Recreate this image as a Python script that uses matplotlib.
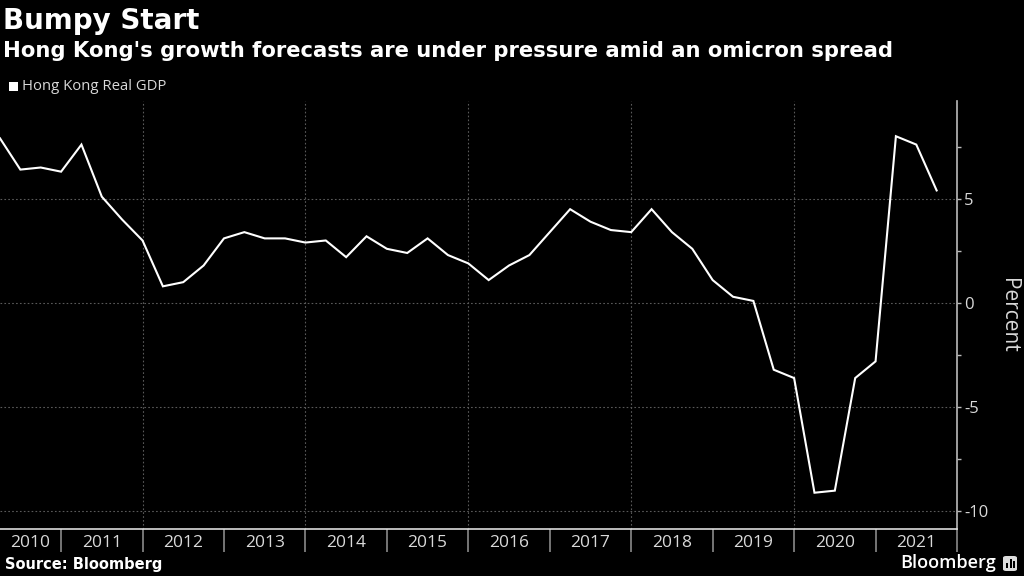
import matplotlib
matplotlib.use("Agg")
import matplotlib.pyplot as plt
from matplotlib.patches import Rectangle, FancyBboxPatch

# ---- data (quarterly, 2010 Q1 .. 2021 Q3), YoY % ----
quarters = list(range(47))
gdp = [7.9, 6.4, 6.5, 6.3, 7.6, 5.1, 4.0, 3.0,
       0.8, 1.0, 1.8, 3.1, 3.4, 3.1, 3.1, 2.9,
       3.0, 2.2, 3.2, 2.6, 2.4, 3.1, 2.3, 1.9,
       1.1, 1.8, 2.3, 3.4, 4.5, 3.9, 3.5, 3.4,
       4.5, 3.4, 2.6, 1.1, 0.3, 0.1, -3.2, -3.6,
       -9.1, -9.0, -3.6, -2.8, 8.0, 7.6, 5.4]
years = ["2010", "2011", "2012", "2013", "2014", "2015", "2016",
         "2017", "2018", "2019", "2020", "2021"]
y_ticks = [5, 0, -5, -10]
y_minor = [7.5, 2.5, -2.5, -7.5]

BG = "black"
TXT = "#d9d9d9"
GRID = "#5a5a5a"
FONT = ["Open Sans", "DejaVu Sans"]

W, H = 1024, 576
fig = plt.figure(figsize=(W / 100, H / 100), dpi=100, facecolor=BG)
left, right, top, bottom = 0, 957, 101, 529
ax = fig.add_axes([left / W, 1 - bottom / H, (right - left) / W, (bottom - top) / H])
ax.set_facecolor(BG)

ax.plot(quarters, gdp, color="white", lw=1.5, solid_joinstyle="miter", zorder=3)

ax.set_xlim(0, 47)
ax.set_ylim(-10.84, 9.69)

# year boundaries (minor ticks) and labels (major ticks at centres)
bounds = [3 + 4 * k for k in range(12)]
starts = [0] + bounds[:-1]
centres = [(s + e) / 2 for s, e in zip(starts, bounds)]
ax.set_xticks(centres)
ax.set_xticklabels(years, fontsize=12.5, color=TXT, family=FONT)
ax.set_xticks(bounds, minor=True)
ax.tick_params(axis="x", which="major", length=0, pad=4)
ax.tick_params(axis="x", which="minor", length=16.5, width=1.2, color="#8a8a8a", direction="out")

# y axis on right
ax.yaxis.tick_right()
ax.set_yticks(y_ticks)
ax.set_yticklabels([f"{v:g}" for v in y_ticks], fontsize=12, color=TXT, family=FONT)
ax.set_yticks(y_minor, minor=True)
ax.tick_params(axis="y", which="major", length=3, width=1, color="#bbbbbb", pad=2)
ax.tick_params(axis="y", which="minor", length=3, width=1, color="#bbbbbb")
ax.yaxis.set_label_position("right")
ax.set_ylabel("Percent", rotation=270, color=TXT, fontsize=15, family=FONT, labelpad=22)

# grid
for v in y_ticks:
    ax.axhline(v, color=GRID, lw=0.8, ls=(0, (1.5, 2)), zorder=1)
for b in [7, 15, 23, 31, 39]:
    ax.axvline(b, color=GRID, lw=0.8, ls=(0, (1.5, 2)), zorder=1)

for s in ["top", "left"]:
    ax.spines[s].set_visible(False)
ax.spines["bottom"].set_color("#dddddd")
ax.spines["bottom"].set_linewidth(1.2)
ax.spines["right"].set_color("#bbbbbb")
ax.spines["right"].set_linewidth(1.2)

# titles
fig.text(3 / W, 1 - 21 / H, "Bumpy Start", fontsize=20, fontweight="bold",
         color="white", va="center", ha="left", family="DejaVu Sans")
fig.text(3 / W, 1 - 51 / H, "Hong Kong's growth forecasts are under pressure amid an omicron spread",
         fontsize=15.2, fontweight="bold", color="white", va="center", ha="left", family="DejaVu Sans")

# legend
fig.patches.append(Rectangle((9 / W, 1 - 91 / H), 9 / W, 9 / H, transform=fig.transFigure,
                             facecolor="white", edgecolor="none"))
fig.text(22 / W, 1 - 87 / H, "Hong Kong Real GDP", fontsize=10.7, color=TXT,
         va="center", ha="left", family=FONT)

# footer
fig.text(5 / W, 1 - 565 / H, "Source: Bloomberg", fontsize=10.5, fontweight="bold",
         color="white", va="center", ha="left", family="DejaVu Sans")
fig.text(996 / W, 1 - 563 / H, "Bloomberg", fontsize=13, fontweight="semibold",
         color="white", va="center", ha="right", family=FONT)
fig.patches.append(FancyBboxPatch((1003 / W, 1 - 571 / H), 14 / W, 15 / H,
                                  boxstyle="round,pad=0,rounding_size=0.003",
                                  transform=fig.transFigure, facecolor="#dddddd", edgecolor="none"))
for i, hgt in enumerate([5, 9, 7]):
    fig.patches.append(Rectangle(((1006 + i * 3.5) / W, 1 - 568 / H), 2 / W, hgt / H,
                                 transform=fig.transFigure, facecolor="black", edgecolor="none"))

fig.savefig("out.png", dpi=100, facecolor=BG)
